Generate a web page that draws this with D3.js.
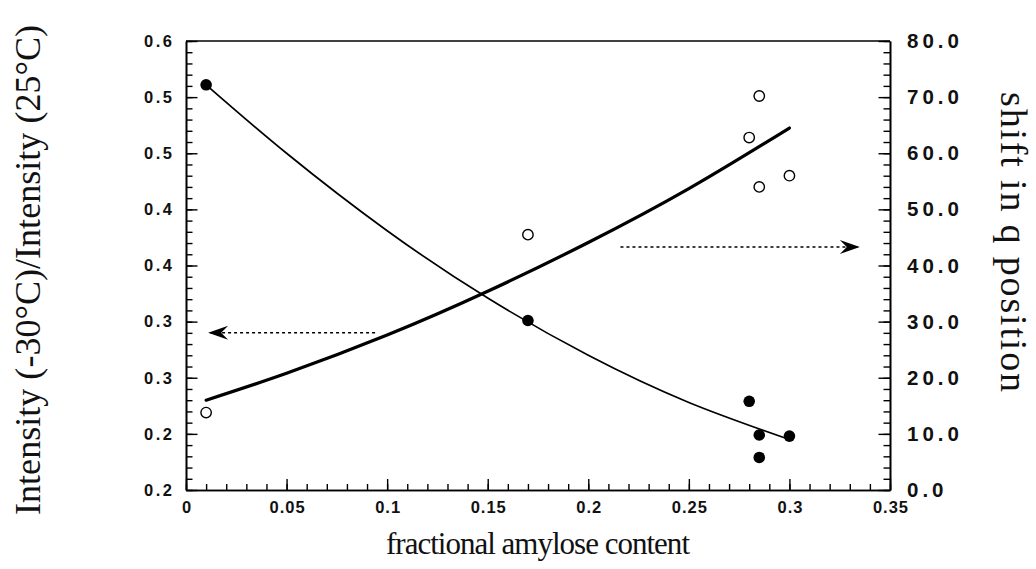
<!DOCTYPE html>
<html>
<head>
<meta charset="utf-8">
<script src="https://cdn.jsdelivr.net/npm/d3@7"></script>
<style>
  body { margin: 0; background: #fff; }
  svg { display: block; }
</style>
</head>
<body>
<svg id="chart" width="1036" height="569"></svg>
<script>
// Measured samples: intensity ratio (filled) and q-shift (open) vs amylose fraction
const ratioAmylose   = [0.01, 0.17, 0.28, 0.285, 0.285, 0.30];
const intensityRatio = [0.561, 0.351, 0.279, 0.249, 0.229, 0.248];
const shiftAmylose   = [0.01, 0.17, 0.28, 0.285, 0.285, 0.30];
const qShift         = [13.8, 45.5, 62.8, 70.2, 54.0, 56.0];

// Fitted trend curves
const fitAmylose = [0.01, 0.05, 0.10, 0.15, 0.20, 0.25, 0.30];
const ratioFit   = [0.561, 0.500, 0.431, 0.371, 0.320, 0.278, 0.245];
const shiftFit   = [16.0, 20.8, 27.6, 35.4, 44.1, 53.7, 64.5];

// Arrows pointing each curve to its own axis
const leftArrowX   = [0.094, 0.011];
const leftArrowY   = 0.340;
const rightArrowX  = [0.216, 0.335];
const rightArrowY  = 43.3;

// Tick values and labels
const xTicks      = [0, 0.05, 0.10, 0.15, 0.20, 0.25, 0.30, 0.35];
const xTickLabels = ["0", "0.05", "0.1", "0.15", "0.2", "0.25", "0.3", "0.35"];
const leftTicks      = [0.60, 0.55, 0.50, 0.45, 0.40, 0.35, 0.30, 0.25, 0.20];
const leftTickLabels = ["0.6", "0.5", "0.5", "0.4", "0.4", "0.3", "0.3", "0.2", "0.2"];
const rightTicks      = [80, 70, 60, 50, 40, 30, 20, 10, 0];
const rightTickLabels = ["80.0", "70.0", "60.0", "50.0", "40.0", "30.0", "20.0", "10.0", "0.0"];
const xMinor     = d3.range(0, 36).map(i => i / 100);
const leftMinor  = d3.range(20, 61).map(i => i / 100);
const rightMinor = d3.range(0, 41).map(i => i * 2);

const plot = { left: 186, right: 890, top: 41, bottom: 490 };

const svg = d3.select("#chart");

const x  = d3.scaleLinear().domain([0, 0.35]).range([plot.left, plot.right]);
const yL = d3.scaleLinear().domain([0.2, 0.6]).range([plot.bottom, plot.top]);
const yR = d3.scaleLinear().domain([0, 80]).range([plot.bottom, plot.top]);

const tickFont = "'Liberation Sans', Arial, sans-serif";

// Frame top edge
svg.append("line")
  .attr("x1", plot.left).attr("x2", plot.right)
  .attr("y1", plot.top).attr("y2", plot.top)
  .attr("stroke", "#000").attr("stroke-width", 1.3);

function styleAxis(g) {
  g.select(".domain").attr("stroke", "#000").attr("stroke-width", 1.6);
  g.selectAll(".tick line").attr("stroke", "#000").attr("stroke-width", 1.4);
}

// Minor ticks
svg.append("g").attr("transform", `translate(0,${plot.bottom})`)
  .call(d3.axisBottom(x).tickValues(xMinor).tickSize(-6).tickSizeOuter(0).tickFormat(""))
  .call(styleAxis);
svg.append("g").attr("transform", `translate(${plot.left},0)`)
  .call(d3.axisLeft(yL).tickValues(leftMinor).tickSize(-6.5).tickSizeOuter(0).tickFormat(""))
  .call(styleAxis);
svg.append("g").attr("transform", `translate(${plot.right},0)`)
  .call(d3.axisRight(yR).tickValues(rightMinor).tickSize(-6.5).tickSizeOuter(0).tickFormat(""))
  .call(styleAxis);

// Major ticks with labels
const xAxis = svg.append("g").attr("transform", `translate(0,${plot.bottom})`)
  .call(d3.axisBottom(x).tickValues(xTicks).tickSize(-11).tickSizeOuter(0).tickPadding(11)
    .tickFormat((d, i) => xTickLabels[i]))
  .call(styleAxis);
xAxis.selectAll("text")
  .attr("font-family", tickFont).attr("font-size", 16.5).attr("font-weight", "bold").attr("fill", "#111")
  .style("letter-spacing", "1px").attr("dx", 0.5);

const leftAxis = svg.append("g").attr("transform", `translate(${plot.left},0)`)
  .call(d3.axisLeft(yL).tickValues(leftTicks).tickSize(-11.5).tickSizeOuter(0).tickPadding(14)
    .tickFormat((d, i) => leftTickLabels[i]))
  .call(styleAxis);
leftAxis.selectAll("text")
  .attr("font-family", tickFont).attr("font-size", 16.5).attr("font-weight", "bold").attr("fill", "#111")
  .style("letter-spacing", "2.5px").attr("dx", 2.5);

const rightAxis = svg.append("g").attr("transform", `translate(${plot.right},0)`)
  .call(d3.axisRight(yR).tickValues(rightTicks).tickSize(-11.5).tickSizeOuter(0).tickPadding(17)
    .tickFormat((d, i) => rightTickLabels[i]))
  .call(styleAxis);
rightAxis.selectAll("text")
  .attr("font-family", tickFont).attr("font-size", 20.5).attr("font-weight", "bold").attr("fill", "#111")
  .style("letter-spacing", "4px");

// Fitted curves
const ratioLine = d3.line().curve(d3.curveNatural)
  .x((d, i) => x(fitAmylose[i])).y(d => yL(d));
const shiftLine = d3.line().curve(d3.curveNatural)
  .x((d, i) => x(fitAmylose[i])).y(d => yR(d));

svg.append("path").datum(ratioFit)
  .attr("d", ratioLine).attr("fill", "none")
  .attr("stroke", "#000").attr("stroke-width", 1.7);
svg.append("path").datum(shiftFit)
  .attr("d", shiftLine).attr("fill", "none")
  .attr("stroke", "#000").attr("stroke-width", 3.2).attr("stroke-linecap", "round");

// Data points
svg.append("g").selectAll("circle").data(intensityRatio).join("circle")
  .attr("cx", (d, i) => x(ratioAmylose[i])).attr("cy", d => yL(d))
  .attr("r", 5.8).attr("fill", "#000");
svg.append("g").selectAll("circle").data(qShift).join("circle")
  .attr("cx", (d, i) => x(shiftAmylose[i])).attr("cy", d => yR(d))
  .attr("r", 5.2).attr("fill", "#fff").attr("stroke", "#000").attr("stroke-width", 1.4);

// Dotted arrows
const defs = svg.append("defs");
defs.append("marker")
  .attr("id", "barb").attr("viewBox", "-21 -8 22 16")
  .attr("refX", 0).attr("refY", 0)
  .attr("markerWidth", 22).attr("markerHeight", 16)
  .attr("markerUnits", "userSpaceOnUse").attr("orient", "auto")
  .append("path").attr("d", "M0,0 L-20,-7 L-13,0 L-20,7 Z").attr("fill", "#000");

function arrow(xs, yScale, yVal) {
  svg.append("line")
    .attr("x1", x(xs[0])).attr("x2", x(xs[1]))
    .attr("y1", yScale(yVal)).attr("y2", yScale(yVal))
    .attr("stroke", "#000").attr("stroke-width", 1.5)
    .attr("stroke-dasharray", "3,3")
    .attr("marker-end", "url(#barb)");
}
arrow(leftArrowX, yL, leftArrowY);
arrow(rightArrowX, yR, rightArrowY);

// Axis titles
const titleFont = "'Liberation Serif', 'Times New Roman', serif";
svg.append("text")
  .attr("transform", "translate(40,270) rotate(-90)")
  .attr("text-anchor", "middle")
  .attr("font-family", titleFont).attr("font-size", 36).attr("fill", "#111")
  .attr("textLength", 490).attr("lengthAdjust", "spacing")
  .text("Intensity (-30°C)/Intensity (25°C)");

svg.append("text")
  .attr("transform", "translate(1001,242) rotate(90)")
  .attr("text-anchor", "middle")
  .attr("font-family", titleFont).attr("font-size", 38).attr("fill", "#111")
  .attr("textLength", 300).attr("lengthAdjust", "spacing")
  .text("shift in q position");

svg.append("text")
  .attr("x", (plot.left + plot.right) / 2).attr("y", 554)
  .attr("text-anchor", "middle")
  .attr("font-family", titleFont).attr("font-size", 31).attr("fill", "#111")
  .attr("textLength", 304).attr("lengthAdjust", "spacing")
  .text("fractional amylose content");
</script>
</body>
</html>
